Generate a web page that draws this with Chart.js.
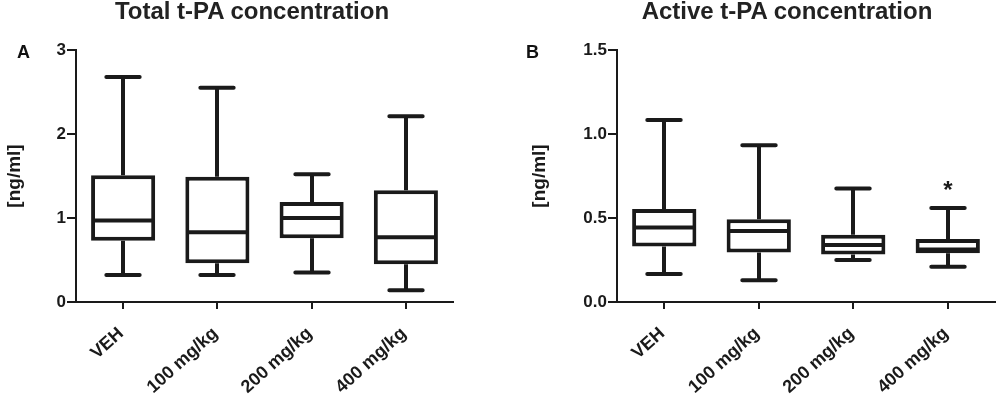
<!DOCTYPE html>
<html>
<head>
<meta charset="utf-8">
<script src="https://cdn.jsdelivr.net/npm/chart.js@4.4.1/dist/chart.umd.min.js"></script>
<style>
body{margin:0;background:#fff;font-family:"Liberation Sans",Arial,sans-serif;}
#todo{position:relative;width:1000px;height:399px;overflow:hidden;}
.caja{position:absolute;top:0;width:500px;height:399px;}
.titulo{position:absolute;top:-2px;line-height:26px;font-weight:bold;font-size:24px;color:#222;white-space:nowrap;transform:translateX(-50%);}
.letra{position:absolute;top:43px;line-height:18px;font-weight:bold;font-size:18px;color:#111;}
</style>
</head>
<body>
<div id="todo">
  <canvas id="graficoA" class="caja" style="left:0" width="500" height="399"></canvas>
  <canvas id="graficoB" class="caja" style="left:500px" width="500" height="399"></canvas>
  <div class="titulo" style="left:252px">Total t-PA concentration</div>
  <div class="titulo" style="left:787px">Active t-PA concentration</div>
  <div class="letra" style="left:17px">A</div>
  <div class="letra" style="left:526px">B</div>
</div>
<script>
// grupos
const grupos = ["VEH", "100 mg/kg", "200 mg/kg", "400 mg/kg"];

// A: t-PA total
const totalMin = [0.32, 0.32, 0.35, 0.14];
const totalQ1  = [0.73, 0.46, 0.76, 0.45];
const totalMed = [0.97, 0.83, 1.00, 0.77];
const totalQ3  = [1.51, 1.49, 1.19, 1.33];
const totalMax = [2.68, 2.55, 1.52, 2.21];
const totalTicks = [0, 1, 2, 3];
const totalEtiquetas = ["0", "1", "2", "3"];

// B: t-PA activo
const activoMin = [0.167, 0.129, 0.25, 0.21];
const activoQ1  = [0.33, 0.294, 0.283, 0.29];
const activoMed = [0.444, 0.423, 0.34, 0.3125];
const activoQ3  = [0.553, 0.492, 0.40, 0.375];
const activoMax = [1.083, 0.933, 0.676, 0.56];
const activoTicks = [0, 0.5, 1.0, 1.5];
const activoEtiquetas = ["0.0", "0.5", "1.0", "1.5"];
const activoSignif = ["", "", "", "*"];
const activoSignifY = [null, null, null, 0.70];

const negro = '#1a1a1a';
const fuente = '"Liberation Sans", Arial, sans-serif';
const grosor = 4;

// bigotes, mediana y asteriscos encima de las barras flotantes
const bigotes = {
    id: 'bigotes',
    afterDatasetsDraw(chart, args, op) {
        const ctx = chart.ctx;
        const ejeY = chart.scales.y;
        const meta = chart.getDatasetMeta(0);
        ctx.save();
        ctx.strokeStyle = negro;
        ctx.fillStyle = negro;
        ctx.lineWidth = grosor;
        meta.data.forEach((barra, i) => {
            const x = Math.round(barra.x);
            const w = barra.width;
            const tapa = w * 0.52;
            const yMin = ejeY.getPixelForValue(op.min[i]);
            const yMax = ejeY.getPixelForValue(op.max[i]);
            const yMed = ejeY.getPixelForValue(op.med[i]);
            const arriba = Math.min(barra.y, barra.base);
            const abajo = Math.max(barra.y, barra.base);
            ctx.lineCap = 'butt';
            ctx.beginPath();
            ctx.moveTo(x, arriba); ctx.lineTo(x, yMax);
            ctx.moveTo(x, abajo); ctx.lineTo(x, yMin);
            ctx.moveTo(barra.x - w / 2 + 2, yMed); ctx.lineTo(barra.x + w / 2 - 2, yMed);
            ctx.stroke();
            ctx.lineCap = 'round';
            ctx.beginPath();
            ctx.moveTo(x - tapa / 2, yMax); ctx.lineTo(x + tapa / 2, yMax);
            ctx.moveTo(x - tapa / 2, yMin); ctx.lineTo(x + tapa / 2, yMin);
            ctx.stroke();
            if (op.marcas && op.marcas[i]) {
                ctx.font = 'bold 24px ' + fuente;
                ctx.textAlign = 'center';
                ctx.textBaseline = 'alphabetic';
                ctx.fillText(op.marcas[i], x, ejeY.getPixelForValue(op.marcasY[i]) + 14);
            }
        });
        ctx.restore();
    }
};

function crearGrafico(id, q1, q3, min, med, max, ticks, etiquetas, izq, der, anchoY, marcas, marcasY) {
    const cajas = q1.map((v, i) => [v, q3[i]]);
    return new Chart(document.getElementById(id).getContext('2d'), {
        type: 'bar',
        data: {
            labels: grupos,
            datasets: [{
                data: cajas,
                backgroundColor: '#fff',
                borderColor: negro,
                borderWidth: grosor,
                borderSkipped: false,
                categoryPercentage: 1,
                barPercentage: 0.68
            }]
        },
        plugins: [bigotes],
        options: {
            responsive: false,
            animation: false,
            layout: { padding: { top: 50, left: izq, right: der, bottom: 0 } },
            plugins: {
                legend: { display: false },
                tooltip: { enabled: false },
                bigotes: { min: min, med: med, max: max, marcas: marcas, marcasY: marcasY }
            },
            scales: {
                x: {
                    offset: true,
                    grid: { drawOnChartArea: false, tickLength: 7, offset: false, color: negro, lineWidth: 2 },
                    border: { color: negro, width: 2 },
                    ticks: {
                        color: negro, autoSkip: false, minRotation: 42, maxRotation: 42, padding: 14, labelOffset: -2,
                        font: { family: fuente, size: 18, weight: 'bold' }
                    },
                    afterFit: s => { s.height = 97; }
                },
                y: {
                    min: ticks[0],
                    max: ticks[ticks.length - 1],
                    grid: { drawOnChartArea: false, tickLength: 9, color: negro, lineWidth: 2 },
                    border: { color: negro, width: 2 },
                    ticks: {
                        color: negro, padding: 1,
                        font: { family: fuente, size: 17, weight: 'bold' },
                        callback: (v, i) => etiquetas[i]
                    },
                    afterBuildTicks: s => { s.ticks = ticks.map(v => ({ value: v })); },
                    title: {
                        display: true, text: '[ng/ml]', color: negro, padding: 0,
                        font: { family: fuente, size: 19, weight: 'bold' }
                    },
                    afterFit: s => { s.width = anchoY; }
                }
            }
        }
    });
}

crearGrafico('graficoA', totalQ1, totalQ3, totalMin, totalMed, totalMax, totalTicks, totalEtiquetas, 3, 47, 73, null, null);
crearGrafico('graficoB', activoQ1, activoQ3, activoMin, activoMed, activoMax, activoTicks, activoEtiquetas, 28, 5, 89, activoSignif, activoSignifY);
</script>
</body>
</html>
